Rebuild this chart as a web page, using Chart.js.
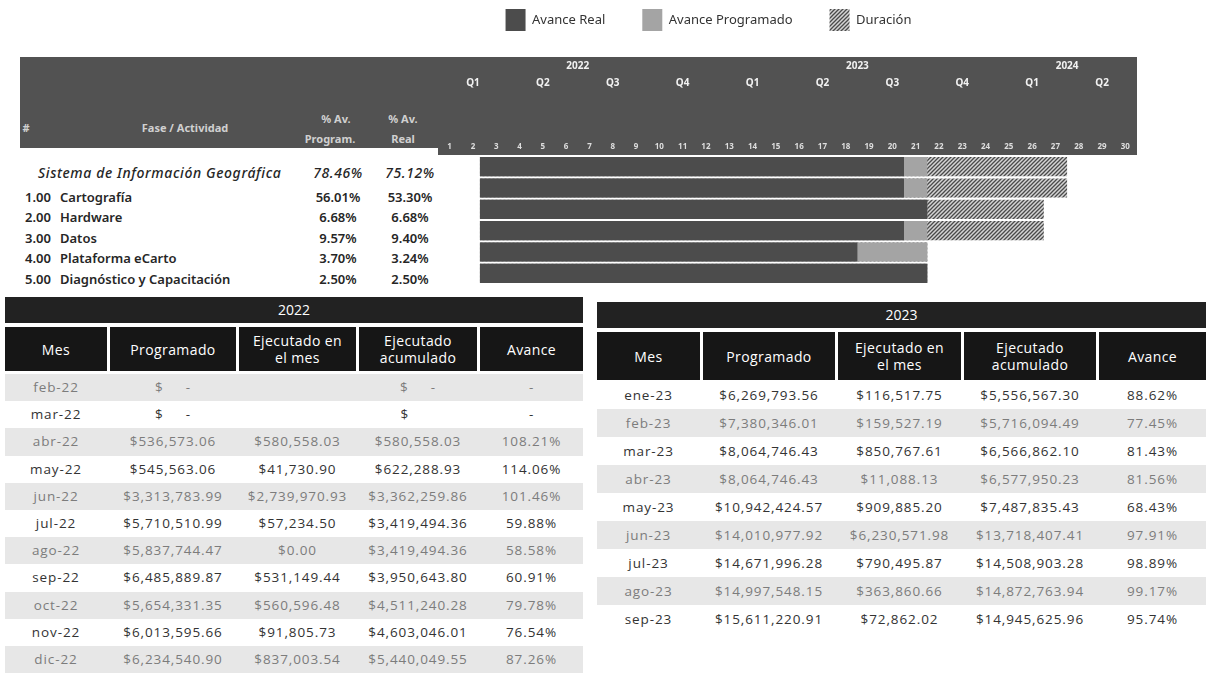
<!DOCTYPE html>
<html lang="es">
<head>
<meta charset="utf-8">
<title>Avance del proyecto SIG</title>
<script src="https://cdn.jsdelivr.net/npm/chart.js@4.4.1/dist/chart.umd.min.js"></script>
<style>
  html, body { margin: 0; padding: 0; background: #fff; }
  body { position: relative; width: 1214px; height: 676px; overflow: hidden;
         font-family: 'Noto Sans', sans-serif; color: #2a2a2a; }
  .banda { position: absolute; background: #525252; }
  #banda-izq { left: 20px; top: 57px; width: 418px; height: 91px; }
  #banda-der { left: 438px; top: 57px; width: 699px; height: 98px; }
  #gantt-box { position: absolute; left: 280px; top: -28px; width: 860px; height: 314px; }
  .txt { position: absolute; white-space: nowrap; transform: translate(-50%, -50%); }
  .txt.izq { transform: translate(0, -50%); }
  .enc-gantt { color: #d0d0d0; font-size: 11px; font-weight: 700; }
  .act { font-size: 13px; font-weight: 600; color: #262626; }
  .act.total { font-style: italic; font-weight: 500; font-size: 14px; letter-spacing: 0.6px; }

  .tabla { position: absolute; font-family: 'Open Sans', sans-serif; }
  .tabla .titulo { background: #222; color: #fff; text-align: center; font-size: 14px; }
  .tabla .enc { display: grid; column-gap: 3px; }
  .tabla .enc div { background: #161616; color: #fff; display: flex; align-items: center;
                    justify-content: center; text-align: center; font-size: 14px; line-height: 17px; letter-spacing: 0.4px; }
  .tabla .fila { display: grid; column-gap: 3px; }
  .tabla .fila div { text-align: center; font-size: 13.5px; letter-spacing: 0.9px; white-space: pre; color: #333; }
  .tabla .fila.sombra { background: #e7e7e7; }
  .tabla .fila.sombra div { color: #7c7c7c; }

  #tabla-2022 { left: 5px; top: 297px; }
  #tabla-2022 .titulo { height: 26px; line-height: 26px; }
  #tabla-2022 .enc { margin-top: 4px; height: 44px; margin-bottom: 3px; }
  #tabla-2023 { left: 597px; top: 302px; }
  #tabla-2023 .titulo { height: 26px; line-height: 26px; }
  #tabla-2023 .enc { margin-top: 4px; height: 48px; margin-bottom: 1px; }
</style>
</head>
<body>
<div id="banda-izq" class="banda"></div>
<div id="banda-der" class="banda"></div>
<div id="encabezado"></div>
<div id="actividades"></div>
<div id="gantt-box"><canvas id="gantt"></canvas></div>
<div id="tabla-2022" class="tabla"></div>
<div id="tabla-2023" class="tabla"></div>

<script>
/* ---- Actividades del Gantt ---- */
const claves        = ['', '1.00', '2.00', '3.00', '4.00', '5.00'];
const actividades   = ['Sistema de Información Geográfica', 'Cartografía', 'Hardware', 'Datos',
                       'Plataforma eCarto', 'Diagnóstico y Capacitación'];
const pctProgramado = ['78.46%', '56.01%', '6.68%', '9.57%', '3.70%', '2.50%'];
const pctReal       = ['75.12%', '53.30%', '6.68%', '9.40%', '3.24%', '2.50%'];

/* meses contados desde el 1 de enero de 2022 */
const inicio        = [1.8, 1.8, 1.8, 1.8, 1.8, 1.8];
const finReal       = [20, 20, 21, 20, 18, 21];
const finProgramado = [21, 21, 21, 21, 21, 21];
const finDuracion   = [27, 27, 26, 26, 21, 21];

/* ---- Encabezado del calendario ---- */
const numMeses    = ['1','2','3','4','5','6','7','8','9','10','11','12','13','14','15',
                     '16','17','18','19','20','21','22','23','24','25','26','27','28','29','30'];
const trimestres  = ['Q1','Q2','Q3','Q4','Q1','Q2','Q3','Q4','Q1','Q2'];
const anios       = ['2022', '2023', '2024'];
const mesesPorAnio = [12, 12, 6];

/* ---- Tabla 2022 ---- */
const meses2022     = ['feb-22','mar-22','abr-22','may-22','jun-22','jul-22','ago-22','sep-22','oct-22','nov-22','dic-22'];
const programado2022 = ['$     -', '$     -', '$536,573.06', '$545,563.06', '$3,313,783.99', '$5,710,510.99',
                        '$5,837,744.47', '$6,485,889.87', '$5,654,331.35', '$6,013,595.66', '$6,234,540.90'];
const ejecMes2022   = ['', '', '$580,558.03', '$41,730.90', '$2,739,970.93', '$57,234.50',
                       '$0.00', '$531,149.44', '$560,596.48', '$91,805.73', '$837,003.54'];
const ejecAcum2022  = ['$     -', '$      ', '$580,558.03', '$622,288.93', '$3,362,259.86', '$3,419,494.36',
                       '$3,419,494.36', '$3,950,643.80', '$4,511,240.28', '$4,603,046.01', '$5,440,049.55'];
const avance2022    = ['-', '-', '108.21%', '114.06%', '101.46%', '59.88%', '58.58%', '60.91%', '79.78%', '76.54%', '87.26%'];

/* ---- Tabla 2023 ---- */
const meses2023     = ['ene-23','feb-23','mar-23','abr-23','may-23','jun-23','jul-23','ago-23','sep-23'];
const programado2023 = ['$6,269,793.56', '$7,380,346.01', '$8,064,746.43', '$8,064,746.43', '$10,942,424.57',
                        '$14,010,977.92', '$14,671,996.28', '$14,997,548.15', '$15,611,220.91'];
const ejecMes2023   = ['$116,517.75', '$159,527.19', '$850,767.61', '$11,088.13', '$909,885.20',
                       '$6,230,571.98', '$790,495.87', '$363,860.66', '$72,862.02'];
const ejecAcum2023  = ['$5,556,567.30', '$5,716,094.49', '$6,566,862.10', '$6,577,950.23', '$7,487,835.43',
                       '$13,718,407.41', '$14,508,903.28', '$14,872,763.94', '$14,945,625.96'];
const avance2023    = ['88.62%', '77.45%', '81.43%', '81.56%', '68.43%', '97.91%', '98.89%', '99.17%', '95.74%'];

const encabezadosTabla = ['Mes', 'Programado', 'Ejecutado en<br>el mes', 'Ejecutado<br>acumulado', 'Avance'];
const abrevMeses = ['ene','feb','mar','abr','may','jun','jul','ago','sep','oct','nov','dic'];

/* =========================================================
   Columnas de texto a la izquierda del Gantt
   ========================================================= */
function colocar(parent, cls, texto, x, y) {
  const d = document.createElement('div');
  d.className = 'txt ' + cls;
  d.style.left = x + 'px';
  d.style.top = y + 'px';
  d.innerHTML = texto;
  parent.appendChild(d);
}

const enc = document.getElementById('encabezado');
colocar(enc, 'enc-gantt', '#', 26, 127);
colocar(enc, 'enc-gantt', 'Fase / Actividad', 185, 127);
colocar(enc, 'enc-gantt', '% Av.', 336, 118);
colocar(enc, 'enc-gantt', 'Program.', 330, 138);
colocar(enc, 'enc-gantt', '% Av.', 403, 118);
colocar(enc, 'enc-gantt', 'Real', 403, 138);

const act = document.getElementById('actividades');
actividades.forEach((nombre, i) => {
  const y = i === 0 ? 172 : 197 + (i - 1) * 20.4;
  const total = i === 0 ? ' total' : '';
  if (i === 0) {
    colocar(act, 'izq act total', nombre, 38, y);
  } else {
    colocar(act, 'izq act', claves[i], 25, y);
    colocar(act, 'izq act', nombre, 60, y);
  }
  colocar(act, 'act' + total, pctProgramado[i], 338, y);
  colocar(act, 'act' + total, pctReal[i], 410, y);
});

/* =========================================================
   Gantt (Chart.js, barras flotantes horizontales)
   ========================================================= */
function crearTrama() {
  const c = document.createElement('canvas');
  c.width = 4; c.height = 4;
  const g = c.getContext('2d');
  g.fillStyle = '#d4d4d4';
  g.fillRect(0, 0, 4, 4);
  g.strokeStyle = '#4a4a4a';
  g.lineWidth = 1.3;
  g.beginPath();
  g.moveTo(0, 4); g.lineTo(4, 0);
  g.moveTo(-1, 1); g.lineTo(1, -1);
  g.moveTo(3, 5); g.lineTo(5, 3);
  g.stroke();
  return g.createPattern(c, 'repeat');
}

Chart.defaults.font.family = "'Noto Sans', sans-serif";
Chart.defaults.animation = false;

const ejeSuperior = (peso, alto, ticksFn, etiquetas, fuente, color, padding) => ({
  position: 'top',
  weight: peso,
  min: 0,
  max: 30,
  grid: { display: false, drawTicks: false },
  border: { display: false },
  afterBuildTicks: s => { s.ticks = ticksFn().map(v => ({ value: v })); },
  afterFit: s => { s.height = alto; },
  ticks: {
    autoSkip: false,
    maxRotation: 0,
    padding,
    color,
    font: fuente,
    callback: (v, i) => etiquetas[i],
  },
});

const centrosAnio = () => {
  let acum = 0;
  return mesesPorAnio.map(n => { const c = acum + n / 2; acum += n; return c; });
};

new Chart(document.getElementById('gantt'), {
  type: 'bar',
  data: {
    labels: actividades,
    datasets: [
      {
        label: 'Avance Real',
        data: inicio.map((v, i) => [v, finReal[i]]),
        backgroundColor: '#4c4c4c',
        grouped: false,
      },
      {
        label: 'Avance Programado',
        data: inicio.map((v, i) => [v, finProgramado[i]]),
        backgroundColor: '#a4a4a4',
        grouped: false,
      },
      {
        label: 'Duración',
        data: inicio.map((v, i) => [v, finDuracion[i]]),
        backgroundColor: crearTrama(),
        grouped: false,
      },
    ],
  },
  options: {
    indexAxis: 'y',
    responsive: true,
    maintainAspectRatio: false,
    barPercentage: 0.9,
    categoryPercentage: 1,
    layout: { padding: { right: 3, bottom: 2 } },
    plugins: {
      legend: {
        position: 'top',
        labels: { boxWidth: 20, boxHeight: 22, padding: 37, color: '#333', font: { size: 13 } },
      },
      tooltip: { enabled: false },
    },
    scales: {
      y: {
        ticks: { display: false },
        grid: { display: false, drawTicks: false },
        border: { display: false },
        afterFit: s => { s.width = 158; },
      },
      x: ejeSuperior(0, 64, () => numMeses.map((m, i) => i + 0.5), numMeses,
                     { size: 8, weight: 'bold' }, '#dedede', 4),
      xq: ejeSuperior(1, 17, () => trimestres.map((q, i) => i * 3 + 1.5), trimestres,
                      { size: 10, weight: 'bold' }, '#f2f2f2', 3),
      xa: ejeSuperior(2, 34, centrosAnio, anios,
                      { size: 10, weight: 'bold' }, '#f2f2f2', 3),
    },
  },
});

/* =========================================================
   Tablas mensuales
   ========================================================= */
function construirTabla(id, anio, meses, prog, ejMes, ejAcum, avance, cols, altoFila) {
  const el = document.getElementById(id);
  const plantilla = cols.map(c => c + 'px').join(' ');
  let html = `<div class="titulo">${anio}</div>`;
  html += `<div class="enc" style="grid-template-columns:${plantilla}">` +
          encabezadosTabla.map(h => `<div>${h}</div>`).join('') + '</div>';
  meses.forEach((m, i) => {
    const num = abrevMeses.indexOf(m.slice(0, 3)) + 1;
    const sombra = num % 2 === 0 ? ' sombra' : '';
    html += `<div class="fila${sombra}" style="grid-template-columns:${plantilla};height:${altoFila}px;line-height:${altoFila}px">` +
            [m, prog[i], ejMes[i], ejAcum[i], avance[i]].map(v => `<div>${v}</div>`).join('') + '</div>';
  });
  el.innerHTML = html;
}

construirTabla('tabla-2022', '2022', meses2022, programado2022, ejecMes2022, ejecAcum2022, avance2022,
               [102, 126, 117, 118, 103], 27.2);
construirTabla('tabla-2023', '2023', meses2023, programado2023, ejecMes2023, ejecAcum2023, avance2023,
               [103, 132, 123, 132, 107], 28);
</script>
</body>
</html>
